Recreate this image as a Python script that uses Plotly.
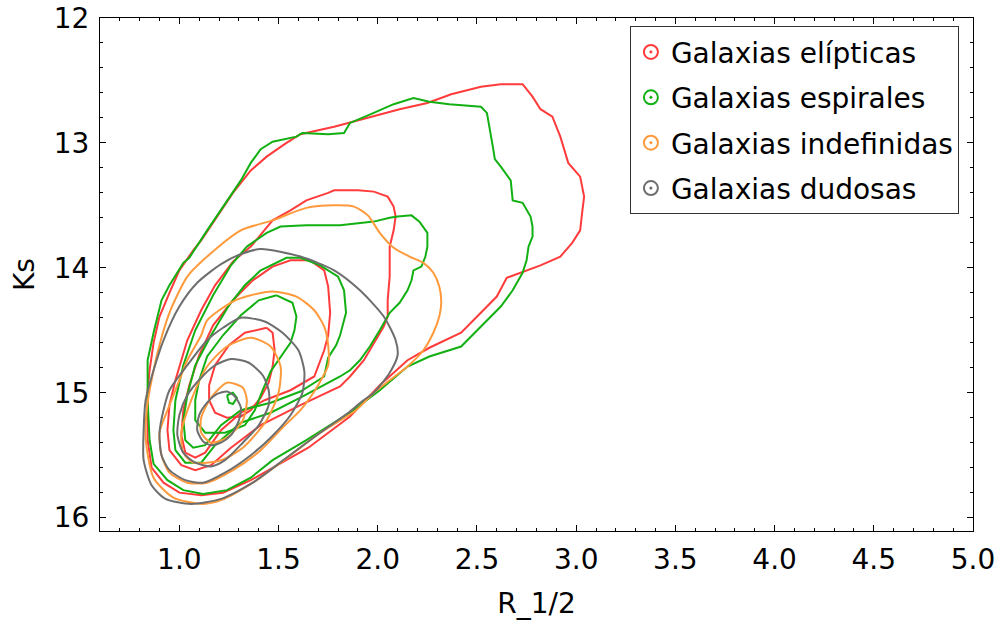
import plotly.graph_objects as go

# contornos de densidad (R_1/2, Ks), del externo al interno

# Galaxias elipticas
eli_x1 = [0.84, 0.85, 0.87, 0.90, 0.95, 1.00, 1.07, 1.11, 1.19, 1.27, 1.36, 1.44, 1.54, 1.61, 1.78, 1.95, 2.11, 2.25,
          2.37, 2.52, 2.62, 2.73, 2.78, 2.82, 2.88, 2.92, 2.96, 3.02, 3.04, 3.03, 3.02, 2.98, 2.92, 2.82, 2.72, 2.65,
          2.60, 2.52, 2.42, 2.26, 2.15, 2.01, 1.86, 1.65, 1.47, 1.36, 1.22, 1.11, 1.00, 0.92, 0.86, 0.84, 0.84]
eli_y1 = [14.98, 14.82, 14.60, 14.39, 14.20, 14.02, 13.86, 13.78, 13.59, 13.40, 13.22, 13.11, 13.00, 12.93, 12.87,
          12.80, 12.73, 12.68, 12.61, 12.55, 12.53, 12.53, 12.63, 12.73, 12.79, 12.95, 13.16, 13.27, 13.43, 13.56,
          13.70, 13.80, 13.91, 13.98, 14.04, 14.08, 14.23, 14.36, 14.52, 14.64, 14.74, 14.94, 15.19, 15.44, 15.60,
          15.70, 15.80, 15.82, 15.80, 15.72, 15.60, 15.38, 14.98]
eli_x2 = [1.36, 1.47, 1.56, 1.64, 1.75, 1.78, 1.90, 1.98, 2.05, 2.08, 2.09, 2.08, 2.06, 2.06, 2.05, 2.05, 2.03, 1.98,
          1.93, 1.86, 1.81, 1.61, 1.41, 1.26, 1.16, 1.08, 1.01, 0.95, 0.94, 0.95, 0.98, 1.04, 1.11, 1.18, 1.27, 1.36]
eli_y2 = [13.83, 13.62, 13.54, 13.46, 13.40, 13.38, 13.38, 13.39, 13.43, 13.51, 13.59, 13.70, 13.83, 14.07, 14.26,
          14.39, 14.47, 14.60, 14.74, 14.87, 14.95, 15.10, 15.26, 15.44, 15.58, 15.62, 15.58, 15.46, 15.30, 15.10,
          14.90, 14.58, 14.34, 14.14, 13.95, 13.83]
eli_x3 = [1.47, 1.56, 1.66, 1.73, 1.75, 1.76, 1.75, 1.73, 1.68, 1.56, 1.43, 1.31, 1.21, 1.13, 1.08, 1.03, 1.01, 1.02,
          1.05, 1.10, 1.17, 1.27, 1.37, 1.47]
eli_y3 = [13.99, 13.94, 13.94, 14.02, 14.15, 14.36, 14.54, 14.66, 14.87, 14.98, 15.06, 15.16, 15.30, 15.48, 15.52,
          15.48, 15.34, 15.14, 14.94, 14.70, 14.46, 14.26, 14.10, 13.99]
eli_x4 = [1.44, 1.47, 1.48, 1.47, 1.45, 1.41, 1.36, 1.31, 1.24, 1.18, 1.15, 1.15, 1.18, 1.25, 1.33, 1.44]
eli_y4 = [14.48, 14.52, 14.66, 14.79, 14.92, 15.04, 15.14, 15.19, 15.20, 15.16, 15.06, 14.94, 14.78, 14.62, 14.52, 14.48]

# Galaxias espirales
esp_x1 = [0.84, 0.87, 0.91, 0.95, 1.02, 1.05, 1.14, 1.24, 1.31, 1.36, 1.41, 1.47, 1.59, 1.62, 1.75, 1.83, 1.86, 1.98,
          2.08, 2.18, 2.26, 2.36, 2.52, 2.55, 2.57, 2.58, 2.59, 2.62, 2.67, 2.68, 2.73, 2.77, 2.78, 2.78, 2.76, 2.75,
          2.73, 2.71, 2.68, 2.62, 2.57, 2.42, 2.26, 2.15, 2.01, 1.86, 1.64, 1.47, 1.36, 1.24, 1.12, 1.02, 0.94, 0.87,
          0.85, 0.84, 0.84]
esp_y1 = [14.74, 14.52, 14.26, 14.14, 13.96, 13.92, 13.70, 13.46, 13.30, 13.16, 13.05, 12.99, 12.95, 12.92, 12.93,
          12.92, 12.84, 12.76, 12.69, 12.64, 12.67, 12.69, 12.71, 12.76, 12.92, 13.03, 13.13, 13.19, 13.30, 13.46,
          13.48, 13.59, 13.67, 13.75, 13.83, 13.94, 14.04, 14.10, 14.18, 14.31, 14.39, 14.63, 14.71, 14.79, 14.98,
          15.16, 15.38, 15.54, 15.68, 15.78, 15.81, 15.78, 15.70, 15.57, 15.38, 15.06, 14.74]
esp_x2 = [1.34, 1.44, 1.51, 1.64, 1.81, 1.93, 1.98, 2.06, 2.10, 2.17, 2.21, 2.25, 2.25, 2.24, 2.22, 2.18, 2.17, 2.15,
          2.11, 2.06, 2.04, 2.01, 1.96, 1.91, 1.86, 1.81, 1.61, 1.46, 1.31, 1.18, 1.11, 1.03, 0.98, 0.97, 0.98, 1.02,
          1.08, 1.17, 1.26, 1.34]
esp_y2 = [13.83, 13.72, 13.67, 13.66, 13.66, 13.64, 13.63, 13.60, 13.59, 13.58, 13.63, 13.72, 13.83, 13.91, 13.99,
          14.02, 14.10, 14.18, 14.28, 14.36, 14.42, 14.50, 14.63, 14.74, 14.82, 14.87, 15.04, 15.16, 15.24, 15.42,
          15.56, 15.56, 15.46, 15.30, 15.06, 14.78, 14.50, 14.22, 13.98, 13.83]
esp_x3 = [1.41, 1.54, 1.61, 1.71, 1.80, 1.83, 1.84, 1.81, 1.79, 1.75, 1.73, 1.61, 1.46, 1.31, 1.21, 1.13, 1.07, 1.03,
          1.02, 1.04, 1.08, 1.16, 1.25, 1.33, 1.41]
esp_y3 = [14.02, 13.92, 13.92, 13.98, 14.07, 14.18, 14.36, 14.54, 14.62, 14.72, 14.87, 14.99, 15.08, 15.14, 15.26,
          15.42, 15.44, 15.38, 15.22, 15.02, 14.78, 14.54, 14.30, 14.14, 14.02]
esp_x4 = [1.49, 1.57, 1.59, 1.58, 1.56, 1.51, 1.46, 1.42, 1.38, 1.33, 1.23, 1.13, 1.08, 1.08, 1.10, 1.14, 1.22, 1.31,
          1.40, 1.49]
esp_y4 = [14.22, 14.28, 14.39, 14.50, 14.60, 14.71, 14.83, 14.98, 15.14, 15.26, 15.32, 15.32, 15.22, 15.06, 14.90,
          14.71, 14.54, 14.38, 14.26, 14.22]
esp_x5 = [1.24, 1.27, 1.29, 1.27, 1.25, 1.24]
esp_y5 = [15.02, 15.00, 15.04, 15.09, 15.08, 15.02]

# Galaxias indefinidas
ind_x1 = [1.04, 1.14, 1.31, 1.47, 1.64, 1.78, 1.88, 1.95, 2.01, 2.08, 2.16, 2.23, 2.28, 2.31, 2.32, 2.31, 2.28, 2.23,
          2.15, 2.06, 1.98, 1.89, 1.71, 1.56, 1.37, 1.21, 1.12, 0.97, 0.87, 0.83, 0.84, 0.89, 0.95, 1.04]
ind_y1 = [14.07, 13.91, 13.70, 13.62, 13.52, 13.50, 13.51, 13.58, 13.72, 13.84, 13.91, 13.96, 14.04, 14.15, 14.28,
          14.39, 14.52, 14.66, 14.79, 14.90, 15.00, 15.14, 15.32, 15.50, 15.72, 15.86, 15.89, 15.84, 15.68, 15.36,
          15.08, 14.68, 14.36, 14.07]
ind_x2 = [1.11, 1.14, 1.27, 1.36, 1.47, 1.59, 1.68, 1.73, 1.75, 1.75, 1.71, 1.68, 1.61, 1.52, 1.41, 1.27, 1.14, 1.04,
          0.95, 0.91, 0.90, 0.94, 0.99, 1.04, 1.11]
ind_y2 = [14.54, 14.42, 14.27, 14.22, 14.19, 14.23, 14.34, 14.47, 14.62, 14.78, 14.91, 14.99, 15.14, 15.28, 15.46,
          15.62, 15.72, 15.72, 15.64, 15.50, 15.32, 15.14, 14.94, 14.74, 14.54]
ind_x3 = [1.24, 1.36, 1.46, 1.51, 1.50, 1.44, 1.32, 1.21, 1.07, 1.02, 1.01, 1.06, 1.14, 1.24]
ind_y3 = [14.63, 14.56, 14.63, 14.79, 15.00, 15.22, 15.44, 15.54, 15.56, 15.48, 15.32, 15.06, 14.79, 14.63]
ind_x4 = [1.24, 1.32, 1.34, 1.32, 1.24, 1.16, 1.11, 1.11, 1.16, 1.24]
ind_y4 = [14.92, 14.96, 15.06, 15.22, 15.36, 15.40, 15.32, 15.20, 15.04, 14.92]

# Galaxias dudosas
dud_x1 = [1.41, 1.61, 1.78, 1.91, 2.03, 2.09, 2.10, 2.06, 1.98, 1.92, 1.86, 1.71, 1.54, 1.37, 1.21, 1.06, 0.93, 0.86,
          0.82, 0.82, 0.83, 0.87, 0.92, 1.00, 1.09, 1.21, 1.31, 1.41]
dud_y1 = [13.85, 13.91, 14.02, 14.18, 14.39, 14.58, 14.70, 14.84, 15.00, 15.07, 15.15, 15.32, 15.52, 15.72, 15.85,
          15.89, 15.85, 15.74, 15.54, 15.30, 15.06, 14.82, 14.58, 14.31, 14.12, 13.97, 13.89, 13.85]
dud_x2 = [1.31, 1.43, 1.52, 1.60, 1.63, 1.62, 1.56, 1.46, 1.36, 1.23, 1.12, 1.03, 0.95, 0.91, 0.90, 0.92, 0.95, 1.04,
          1.14, 1.22, 1.31]
dud_y2 = [14.40, 14.43, 14.52, 14.66, 14.83, 15.00, 15.18, 15.36, 15.50, 15.64, 15.72, 15.70, 15.62, 15.50, 15.32,
          15.14, 14.98, 14.78, 14.58, 14.48, 14.40]
dud_x3 = [1.26, 1.35, 1.42, 1.45, 1.45, 1.40, 1.32, 1.23, 1.16, 1.08, 1.02, 0.99, 1.00, 1.04, 1.11, 1.18, 1.26]
dud_y3 = [14.73, 14.76, 14.86, 14.98, 15.10, 15.26, 15.40, 15.54, 15.59, 15.56, 15.48, 15.34, 15.18, 15.02, 14.88,
          14.78, 14.73]
dud_x4 = [1.24, 1.28, 1.31, 1.30, 1.26, 1.21, 1.16, 1.12, 1.09, 1.10, 1.14, 1.19, 1.24]
dud_y4 = [14.99, 15.03, 15.12, 15.22, 15.34, 15.40, 15.42, 15.39, 15.30, 15.18, 15.08, 15.01, 14.99]

names = ['Galaxias elípticas', 'Galaxias espirales', 'Galaxias indefinidas', 'Galaxias dudosas']
colors = ['#ff3b3b', '#12b012', '#ff9a3c', '#6e6e6e']
contours = [
    [(eli_x1, eli_y1), (eli_x2, eli_y2), (eli_x3, eli_y3), (eli_x4, eli_y4)],
    [(esp_x1, esp_y1), (esp_x2, esp_y2), (esp_x3, esp_y3), (esp_x4, esp_y4), (esp_x5, esp_y5)],
    [(ind_x1, ind_y1), (ind_x2, ind_y2), (ind_x3, ind_y3), (ind_x4, ind_y4)],
    [(dud_x1, dud_y1), (dud_x2, dud_y2), (dud_x3, dud_y3), (dud_x4, dud_y4)],
]
smooth = [False, False, True, True]

font = 'DejaVu Sans'
fig = go.Figure()

for i in range(len(names)):
    for cx, cy in contours[i]:
        if smooth[i]:
            line = dict(color=colors[i], width=2, shape='spline', smoothing=0.7)
        else:
            line = dict(color=colors[i], width=2)
        fig.add_trace(go.Scatter(x=cx, y=cy, mode='lines', line=line,
                                 showlegend=False, hoverinfo='skip'))

# entradas de la leyenda (icono de anillos)
for i in range(len(names)):
    fig.add_trace(go.Scatter(x=[None], y=[None], mode='markers', name=names[i],
                             legendgroup=names[i],
                             marker=dict(symbol='circle-open-dot', size=14, color=colors[i],
                                         line=dict(width=2, color=colors[i]))))

axis_common = dict(showline=True, linecolor='black', linewidth=1, mirror='allticks',
                   ticks='inside', ticklen=6, tickcolor='black', showgrid=False, zeroline=False,
                   automargin=False,
                   tickfont=dict(family=font, size=28, color='black'))

fig.update_layout(
    width=998, height=623,
    margin=dict(l=100, r=25, t=18, b=92),
    paper_bgcolor='white', plot_bgcolor='white',
    font=dict(family=font, color='black'),
    xaxis=dict(range=[0.6, 5.0], tick0=0, dtick=0.5, tickformat='.1f',
               minor=dict(dtick=0.1, tick0=0, ticks='inside', ticklen=3, tickcolor='black'),
               title=dict(text='R_1/2', font=dict(family=font, size=28, color='black'), standoff=18),
               ticklabelstandoff=3,
               **axis_common),
    yaxis=dict(range=[16.107, 12.0], tick0=0, dtick=1,
               minor=dict(dtick=0.2, tick0=0, ticks='inside', ticklen=3, tickcolor='black'),
               title=dict(text='Ks', font=dict(family=font, size=28, color='black'), standoff=10),
               ticklabelstandoff=4,
               **axis_common),
    legend=dict(x=0.607, y=0.984, xanchor='left', yanchor='top',
                bgcolor='white', bordercolor='#333333', borderwidth=1,
                font=dict(family=font, size=28, color='black'),
                tracegroupgap=6, itemwidth=30),
)

# la pagina no debe desplazar la figura (margen del body)
fig.write_html("out.html", config={'displayModeBar': False},
               post_script="document.body.style.margin='0';")
